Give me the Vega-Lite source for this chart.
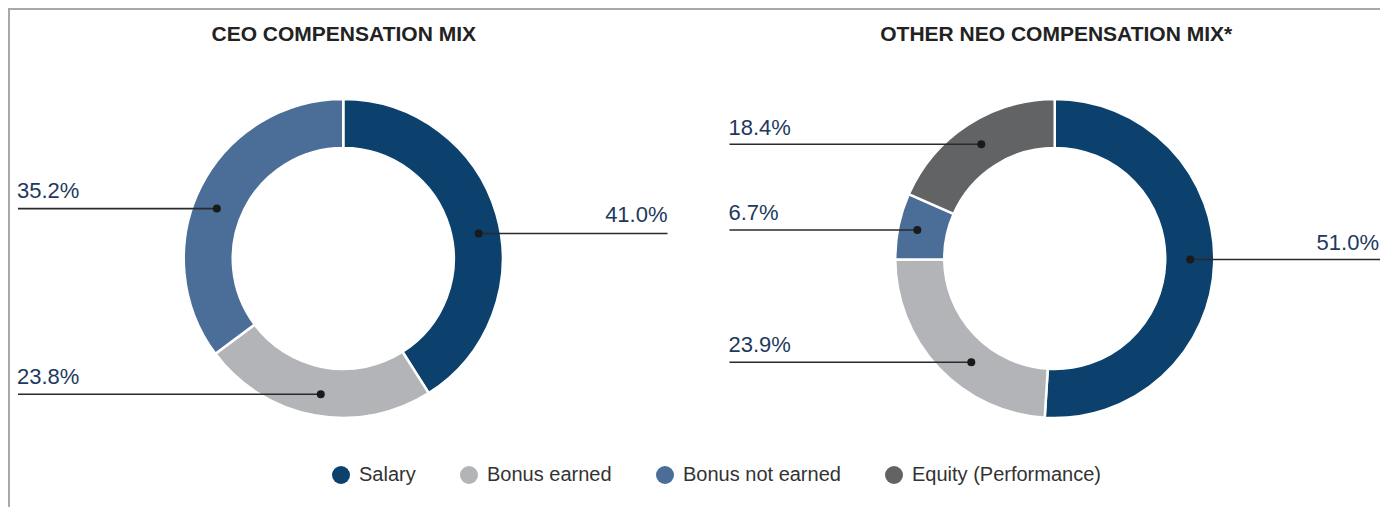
{
  "$schema": "https://vega.github.io/schema/vega-lite/v6.json",
  "width": 1381,
  "height": 508,
  "autosize": {"type": "fit", "contains": "padding"},
  "padding": 0,
  "background": "white",
  "config": {"view": {"stroke": null}, "font": "Liberation Sans"},
  "datasets": {
    "slices": [
      {"chart": "CEO", "category": "Salary", "value": 41.0, "order": 1, "cx": 343.5, "cy": 259},
      {"chart": "CEO", "category": "Bonus earned", "value": 23.8, "order": 2, "cx": 343.5, "cy": 259},
      {"chart": "CEO", "category": "Bonus not earned", "value": 35.2, "order": 3, "cx": 343.5, "cy": 259},
      {"chart": "NEO", "category": "Salary", "value": 51.0, "order": 1, "cx": 1055.5, "cy": 259},
      {"chart": "NEO", "category": "Bonus earned", "value": 23.9, "order": 2, "cx": 1055.5, "cy": 259},
      {"chart": "NEO", "category": "Bonus not earned", "value": 6.7, "order": 3, "cx": 1055.5, "cy": 259},
      {"chart": "NEO", "category": "Equity (Performance)", "value": 18.4, "order": 4, "cx": 1055.5, "cy": 259}
    ],
    "labels": [
      {"chart": "CEO", "label": "35.2%", "side": "left", "x1": 18, "x2": 217, "ly": 209, "dotx": 217, "tx": 17, "ty": 191},
      {"chart": "CEO", "label": "41.0%", "side": "right", "x1": 479, "x2": 668, "ly": 234, "dotx": 479, "tx": 668, "ty": 215.5},
      {"chart": "CEO", "label": "23.8%", "side": "left", "x1": 18, "x2": 321, "ly": 395, "dotx": 321, "tx": 17, "ty": 378},
      {"chart": "NEO", "label": "18.4%", "side": "left", "x1": 730, "x2": 982, "ly": 144.5, "dotx": 982, "tx": 729, "ty": 128},
      {"chart": "NEO", "label": "6.7%", "side": "left", "x1": 730, "x2": 918, "ly": 230.5, "dotx": 918, "tx": 729, "ty": 213.5},
      {"chart": "NEO", "label": "23.9%", "side": "left", "x1": 730, "x2": 972, "ly": 363, "dotx": 972, "tx": 729, "ty": 345.5},
      {"chart": "NEO", "label": "51.0%", "side": "right", "x1": 1191, "x2": 1381, "ly": 260, "dotx": 1191, "tx": 1380, "ty": 243}
    ],
    "titles": [
      {"title": "CEO COMPENSATION MIX", "tx": 344, "ty": 35},
      {"title": "OTHER NEO COMPENSATION MIX*", "tx": 1057, "ty": 35}
    ]
  },
  "layer": [
    {
      "data": {"values": [{}]},
      "mark": {"type": "rule", "color": "#a9a9a9", "strokeWidth": 2},
      "encoding": {
        "y": {"datum": 9, "type": "quantitative", "scale": {"domain": [0, 508], "reverse": true, "nice": false, "zero": false}, "axis": null},
        "x": {"datum": 8, "type": "quantitative", "scale": {"domain": [0, 1381], "nice": false, "zero": false}, "axis": null},
        "x2": {"datum": 1381}
      }
    },
    {
      "data": {"values": [{}]},
      "mark": {"type": "rule", "color": "#a9a9a9", "strokeWidth": 2},
      "encoding": {
        "x": {"datum": 9, "type": "quantitative", "scale": {"domain": [0, 1381], "nice": false, "zero": false}, "axis": null},
        "y": {"datum": 8, "type": "quantitative", "scale": {"domain": [0, 508], "reverse": true, "nice": false, "zero": false}, "axis": null},
        "y2": {"datum": 508}
      }
    },
    {
      "data": {"name": "slices"},
      "transform": [
        {"stack": "value", "groupby": ["chart"], "sort": [{"field": "order", "order": "ascending"}], "as": ["v0", "v1"]}
      ],
      "mark": {"type": "arc", "outerRadius": 159.5, "innerRadius": 110.5, "stroke": "white", "strokeWidth": 2.5},
      "encoding": {
        "x": {"field": "cx", "type": "quantitative", "scale": {"domain": [0, 1381], "nice": false, "zero": false}, "axis": null},
        "y": {"field": "cy", "type": "quantitative", "scale": {"domain": [0, 508], "reverse": true, "nice": false, "zero": false}, "axis": null},
        "theta": {"field": "v0", "type": "quantitative", "stack": null, "scale": {"domain": [0, 100], "range": [0, 6.283185307179586]}},
        "theta2": {"field": "v1"},
        "color": {
          "field": "category",
          "type": "nominal",
          "scale": {
            "domain": ["Salary", "Bonus earned", "Bonus not earned", "Equity (Performance)"],
            "range": ["#0c416d", "#b3b4b8", "#4a6e97", "#616365"]
          },
          "legend": {
            "orient": "none",
            "legendX": 331,
            "legendY": 465,
            "direction": "horizontal",
            "title": null,
            "symbolType": "circle",
            "symbolSize": 324,
            "symbolStrokeWidth": 0,
            "symbolOpacity": 1,
            "labelFont": "Liberation Sans",
            "labelFontSize": 20,
            "labelLimit": 0,
            "labelColor": "#333333",
            "labelOffset": 8,
            "columnPadding": 43,
            "padding": 0
          }
        }
      }
    },
    {
      "data": {"name": "labels"},
      "mark": {"type": "rule", "color": "#2a2a2a", "strokeWidth": 1.6},
      "encoding": {
        "x": {"field": "x1", "type": "quantitative", "scale": {"domain": [0, 1381], "nice": false, "zero": false}, "axis": null},
        "x2": {"field": "x2"},
        "y": {"field": "ly", "type": "quantitative", "scale": {"domain": [0, 508], "reverse": true, "nice": false, "zero": false}, "axis": null}
      }
    },
    {
      "data": {"name": "labels"},
      "mark": {"type": "point", "filled": true, "size": 64, "color": "#1a1a1a", "opacity": 1},
      "encoding": {
        "x": {"field": "dotx", "type": "quantitative", "scale": {"domain": [0, 1381], "nice": false, "zero": false}, "axis": null},
        "y": {"field": "ly", "type": "quantitative", "scale": {"domain": [0, 508], "reverse": true, "nice": false, "zero": false}, "axis": null}
      }
    },
    {
      "data": {"name": "labels"},
      "transform": [{"filter": "datum.side === 'left'"}],
      "mark": {"type": "text", "align": "left", "baseline": "middle", "fontSize": 22, "color": "#1d3a5e", "font": "Liberation Sans"},
      "encoding": {
        "x": {"field": "tx", "type": "quantitative", "scale": {"domain": [0, 1381], "nice": false, "zero": false}, "axis": null},
        "y": {"field": "ty", "type": "quantitative", "scale": {"domain": [0, 508], "reverse": true, "nice": false, "zero": false}, "axis": null},
        "text": {"field": "label"}
      }
    },
    {
      "data": {"name": "labels"},
      "transform": [{"filter": "datum.side === 'right'"}],
      "mark": {"type": "text", "align": "right", "baseline": "middle", "fontSize": 22, "color": "#1d3a5e", "font": "Liberation Sans"},
      "encoding": {
        "x": {"field": "tx", "type": "quantitative", "scale": {"domain": [0, 1381], "nice": false, "zero": false}, "axis": null},
        "y": {"field": "ty", "type": "quantitative", "scale": {"domain": [0, 508], "reverse": true, "nice": false, "zero": false}, "axis": null},
        "text": {"field": "label"}
      }
    },
    {
      "data": {"name": "titles"},
      "mark": {"type": "text", "align": "center", "baseline": "middle", "fontSize": 21, "fontWeight": "bold", "color": "#222222", "font": "Liberation Sans"},
      "encoding": {
        "x": {"field": "tx", "type": "quantitative", "scale": {"domain": [0, 1381], "nice": false, "zero": false}, "axis": null},
        "y": {"field": "ty", "type": "quantitative", "scale": {"domain": [0, 508], "reverse": true, "nice": false, "zero": false}, "axis": null},
        "text": {"field": "title"}
      }
    }
  ]
}
